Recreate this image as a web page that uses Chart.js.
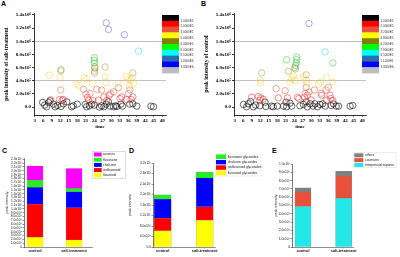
<!DOCTYPE html>
<html>
<head>
<meta charset="utf-8">
<script src="https://cdn.jsdelivr.net/npm/chart.js@4"></script>
<style>
  body { margin: 0; background: #fff; width: 400px; height: 257px; position: relative; overflow: hidden; }
  canvas { position: absolute; }
  .tag { position: absolute; font: bold 7px "Liberation Sans", sans-serif; line-height: 7px; color: #000; }
</style>
</head>
<body>
<div class="tag" style="left:1px;top:0">A</div>
<div class="tag" style="left:201px;top:0">B</div>
<div class="tag" style="left:2px;top:147px">C</div>
<div class="tag" style="left:129px;top:147px">D</div>
<div class="tag" style="left:272px;top:147px">E</div>
<canvas id="panelA" width="200" height="130" style="left:0;top:0"></canvas>
<canvas id="panelB" width="200" height="130" style="left:200px;top:0"></canvas>
<canvas id="panelC" width="135" height="127" style="left:0;top:130px"></canvas>
<canvas id="panelD" width="145" height="127" style="left:125px;top:130px"></canvas>
<canvas id="panelE" width="130" height="127" style="left:270px;top:130px"></canvas>
<script>
// ---- scatter panels A / B: [retention time, peak intensity]
const timeTicks = [3, 6, 9, 12, 15, 18, 21, 24, 27, 30, 33, 36, 39, 42, 45, 48];
const peakTicks = [0, 2e5, 4e5, 6e5, 8e5, 1e6, 1.2e6, 1.4e6];
const peakLabels = ['0.0', '2.0x10⁵', '4.0x10⁵', '6.0x10⁵', '8.0x10⁵', '1.0x10⁶', '1.2x10⁶', '1.4x10⁶'];
const guideLines = [4e5, 1e6];

const peaksSalt = [
  [5.8, 7e4], [6.5, 3e4], [7.2, 5e3], [7.9, 7e4], [8.4, 9.5e4], [9.6, 4.5e4], [10.2, 5e3], [11.0, 2.5e4],
  [12.3, 1e4], [13.1, 5e4], [14.3, 8e4], [16.0, 5e3], [16.6, 2e4], [18.0, 4.5e4], [20.8, 4e4], [21.3, 5e3],
  [22.3, 2e4], [23.1, 4.5e4], [24.0, 3e4], [25.8, 0], [26.6, 2e4], [27.4, 5e3], [28.2, 4.5e4], [29.0, 8e4],
  [29.6, 1.5e4], [30.8, 5e3], [31.5, 2e4], [32.0, 1e4], [33.4, 4.5e4], [34.0, 1.5e4], [36.5, 4.5e4],
  [37.6, 5e4], [39.0, 1.5e4], [44.0, 1.5e4], [44.9, 5e3],
  [8.6, 1.1e5], [11.7, 1.15e5], [12.7, 1.05e5], [13.1, 1.15e5], [12.2, 2.6e5], [20.2, 2.7e5], [21.1, 2.0e5],
  [21.6, 1.5e5], [22.0, 1.05e5], [22.5, 2.05e5], [23.5, 1.0e5], [24.9, 2.7e5], [25.5, 1.05e5], [26.6, 2.6e5],
  [27.4, 1.55e5], [28.4, 1.05e5], [29.3, 1.8e5], [29.8, 2.05e5], [30.8, 2.3e5], [32.5, 2.95e5], [33.1, 1.3e5],
  [33.7, 1.55e5], [35.4, 1.15e5], [36.0, 2.05e5], [36.6, 2.6e5], [37.0, 1.15e5], [37.6, 1.55e5],
  [8.2, 4.85e5], [12.0, 4.5e5], [12.2, 5.5e5], [12.3, 5.7e5], [17.6, 3.5e5], [18.5, 3.3e5], [20.4, 4.5e5],
  [21.2, 4.3e5], [23.3, 3.6e5], [24.1, 5.2e5], [24.1, 5.5e5], [24.2, 5.9e5], [24.2, 6.1e5], [27.8, 6.1e5],
  [27.8, 4.6e5], [28.1, 3.7e5], [32.4, 3.6e5], [35.2, 4.6e5], [36.0, 4.25e5], [36.9, 4.1e5], [37.6, 5.2e5],
  [37.4, 4.5e5], [37.8, 3.6e5], [36.4, 3.2e5],
  [24.0, 6.7e5], [24.0, 7.1e5], [24.1, 7.5e5], [39.6, 8.5e5],
  [28.2, 1.28e6], [29.0, 1.18e6], [34.6, 1.10e6],
];
const peaksControl = [
  [6.1, 4e4], [7.2, 5e3], [7.8, 5e4], [8.6, 8.5e4], [9.6, 5e3], [10.4, 3e4], [11.9, 2e4], [13.7, 7.5e4],
  [14.0, 1e4], [16.0, 1.5e4], [16.6, 5e3], [18.0, 1.5e4], [20.2, 1.5e4], [21.1, 7.5e4], [21.3, 5e3],
  [22.5, 6e4], [23.1, 1.5e4], [26.0, 2e4], [27.2, 4e4], [28.2, 8e4], [28.6, 5e3], [29.6, 5e4], [30.6, 1.5e4],
  [31.3, 5e4], [32.2, 5e3], [33.1, 4e4], [34.0, 5e4], [34.9, 1.5e4], [37.0, 2.5e4], [37.8, 5e4], [38.8, 1.5e4],
  [39.6, 1.5e4], [43.7, 1.5e4], [44.6, 2.5e4],
  [9.0, 1.5e5], [11.3, 1.6e5], [12.2, 1.4e5], [13.1, 1.2e5], [11.9, 1.05e5], [17.6, 2.8e5], [18.4, 1.4e5],
  [20.8, 2.5e5], [21.6, 1.4e5], [25.1, 1.5e5], [25.6, 1.3e5], [27.6, 1.5e5], [27.8, 2.1e5], [28.2, 3.0e5],
  [28.6, 1.8e5], [29.2, 2.3e5], [29.9, 1.1e5], [31.1, 2.6e5], [33.5, 2.1e5], [33.7, 1.8e5], [35.2, 2.6e5],
  [35.4, 1.05e5], [36.0, 3.0e5], [36.6, 1.8e5], [36.9, 1.3e5], [37.6, 1.0e5],
  [12.0, 4.1e5], [12.2, 3.7e5], [22.5, 3.8e5], [23.1, 4.3e5], [23.7, 4.7e5], [24.3, 4.0e5], [27.2, 4.6e5],
  [28.2, 4.1e5], [28.4, 3.6e5], [32.5, 3.5e5], [33.3, 3.8e5], [35.4, 4.5e5], [37.6, 3.8e5],
  [12.5, 5.2e5], [21.9, 5.45e5], [24.1, 6.0e5], [24.4, 5.8e5], [28.2, 4.9e5],
  [21.3, 7.2e5], [24.5, 6.3e5], [24.7, 6.7e5], [24.9, 7.2e5], [24.9, 7.6e5], [37.6, 6.7e5],
  [34.9, 8.4e5], [29.2, 1.27e6],
];

// colour scale boundaries (colour bar tick labels)
const boundsSalt = [1e5, 2e5, 3e5, 5e5, 6.4e5, 8e5, 9.5e5, 1.05e6, 1.35e6];
const boundLabelsSalt = ['1.0000E5', '2.0000E5', '3.0000E5', '5.0000E5', '6.4000E5', '8.0000E5', '9.5000E5', '1.0500E6', '1.3500E6'];
const boundsControl = [1e5, 2e5, 3.2e5, 4.8e5, 6.2e5, 7.9e5, 9.5e5, 1.11e6, 1.3e6];
const boundLabelsControl = ['1.0000E5', '2.0000E5', '3.2000E5', '4.8000E5', '6.2000E5', '7.9000E5', '9.5000E5', '1.1100E6', '1.3000E6'];

const barColors = ['#000000', '#ff0000', '#e8503a', '#ffff00', '#808000', '#00ff00', '#00ffff', '#2a6eb0', '#0000ff', '#bdbdbd'];
const ringColors = ['rgba(0,0,0,0.85)', 'rgba(220,30,30,0.7)', 'rgba(230,80,60,0.7)', 'rgba(240,200,40,0.65)',
  'rgba(140,130,20,0.6)', 'rgba(20,190,20,0.65)', 'rgba(0,200,220,0.6)', 'rgba(40,100,170,0.7)', 'rgba(70,70,200,0.65)', '#aaaaaa'];

// ---- stacked bar panels C / D / E
const groups = ['control', 'salt-treatment'];

const cFlavonoid = [2.55e6, 1.9e6];
const cIsoflavonoid = [8.7e6, 8.4e6];
const cChalcone = [4.4e6, 4.2e6];
const cFlavanone = [1.9e6, 0.9e6];
const cAurones = [3.7e6, 5.2e6];
const cTicks = [0, 1e6, 2e6, 3e6, 4e6, 5e6, 6e6, 7e6, 8e6, 9e6, 1e7, 1.1e7, 1.2e7, 1.3e7, 1.4e7, 1.5e7,
  1.6e7, 1.7e7, 1.8e7, 1.9e7, 2e7, 2.1e7, 2.2e7, 2.3e7];
const cTickLabels = ['0', '1.0x10⁶', '2.0x10⁶', '3.0x10⁶', '4.0x10⁶', '5.0x10⁶', '6.0x10⁶', '7.0x10⁶', '8.0x10⁶',
  '9.0x10⁶', '1.0x10⁷', '1.1x10⁷', '1.2x10⁷', '1.3x10⁷', '1.4x10⁷', '1.5x10⁷', '1.6x10⁷', '1.7x10⁷', '1.8x10⁷',
  '1.9x10⁷', '2.0x10⁷', '2.1x10⁷', '2.2x10⁷', '2.3x10⁷'];

const dFlavonoidGly = [6.2e6, 10.2e6];
const dIsoflavonoidGly = [4.8e6, 5.1e6];
const dChalconeGly = [7.2e6, 11.0e6];
const dFlavanoneGly = [1.65e6, 2.2e6];
const dTicks = [0, 4e6, 8e6, 1.2e7, 1.6e7, 2e7, 2.4e7, 2.8e7, 3.2e7];
const dTickLabels = ['0.0', '4.0x10⁶', '8.0x10⁶', '1.2x10⁷', '1.6x10⁷', '2.0x10⁷', '2.4x10⁷', '2.8x10⁷', '3.2x10⁷'];

const eTriterpenoid = [4.88e6, 5.88e6];
const eCoumarin = [1.72e6, 2.64e6];
const eOthers = [0.52e6, 0.6e6];
const eTicks = [0, 1e6, 2e6, 3e6, 4e6, 5e6, 6e6, 7e6, 8e6, 9e6, 1e7];
const eTickLabels = ['0', '1.0x10⁶', '2.0x10⁶', '3.0x10⁶', '4.0x10⁶', '5.0x10⁶', '6.0x10⁶', '7.0x10⁶', '8.0x10⁶', '9.0x10⁶', '1.0x10⁷'];

// ---------------------------------------------------------------
const serif = 'Liberation Serif';
const sans = 'Liberation Sans';

const fixSize = (size) => (s) => {
  if (s.isHorizontal()) s.height = size; else s.width = size;
};
const useTicks = (vals) => (s) => { s.ticks = vals.map((v) => ({ value: v })); };
const pick = (vals, labels) => (v) => labels[vals.indexOf(v)];

function shade(v, bounds) {
  const i = bounds.findIndex((b) => v < b);
  return ringColors[i < 0 ? ringColors.length - 1 : i];
}

const colorBar = {
  id: 'colorBar',
  afterDraw(chart, args, o) {
    const { ctx } = chart;
    const h = o.h / barColors.length;
    ctx.save();
    barColors.forEach((c, i) => {
      ctx.fillStyle = c;
      ctx.fillRect(o.x, o.y + i * h, o.w, h + 0.4);
    });
    ctx.font = `3px ${sans}`;
    ctx.fillStyle = '#333';
    ctx.textBaseline = 'middle';
    o.labels.forEach((t, i) => ctx.fillText(t, o.x + o.w + 1.5, o.y + (i + 1) * h));
    ctx.restore();
  },
};

const boxLegend = {
  id: 'boxLegend',
  afterDraw(chart, args, o) {
    const { ctx } = chart;
    const sets = chart.data.datasets.slice().reverse();
    ctx.save();
    ctx.strokeStyle = o.frame;
    ctx.lineWidth = 0.5;
    ctx.strokeRect(o.x, o.y, o.w, o.h);
    ctx.font = `3.3px ${sans}`;
    ctx.textBaseline = 'middle';
    sets.forEach((ds, i) => {
      const cy = o.row0 + i * o.rowH;
      ctx.fillStyle = ds.backgroundColor;
      ctx.fillRect(o.sx, cy - o.sh / 2, o.sw, o.sh);
      ctx.fillStyle = '#222';
      ctx.fillText(ds.label, o.tx, cy);
    });
    ctx.restore();
  },
};

function scatterPanel(id, peaks, bounds, boundLabels, yTitle) {
  const font = { family: serif, size: 5, weight: 'bold' };
  new Chart(document.getElementById(id), {
    type: 'scatter',
    data: {
      datasets: [{
        data: peaks.map(([x, y]) => ({ x, y })),
        borderColor: (c) => (c.raw ? shade(c.raw.y, bounds) : '#000'),
        backgroundColor: 'transparent',
        pointRadius: 3.2,
        borderWidth: 0.7,
      }],
    },
    plugins: [colorBar],
    options: {
      responsive: false,
      animation: false,
      devicePixelRatio: 1,
      layout: { padding: { left: 0, top: 13, right: 34, bottom: 0 } },
      plugins: {
        legend: { display: false },
        tooltip: { enabled: false },
        colorBar: { x: 162, y: 15, w: 17, h: 58, labels: boundLabels },
      },
      scales: {
        x: {
          type: 'linear',
          min: 2.75,
          max: 49.3,
          afterFit: fixSize(15),
          afterBuildTicks: useTicks(timeTicks),
          border: { color: '#000', width: 0.8 },
          grid: { drawOnChartArea: false, tickLength: 2, color: '#000', lineWidth: 0.6 },
          ticks: { font, color: '#000', padding: 0.5, maxRotation: 0, autoSkip: false },
          title: { display: true, text: 'time', font: { family: serif, size: 5, weight: 'bold' }, color: '#000', padding: { top: 0, bottom: 0 } },
        },
        y: {
          min: -1.2e5,
          max: 1.43e6,
          afterFit: fixSize(34),
          afterBuildTicks: useTicks(peakTicks),
          border: { color: '#000', width: 0.8 },
          grid: {
            color: (c) => (c.tick && guideLines.includes(c.tick.value) ? '#b0b0b0' : 'transparent'),
            lineWidth: 0.8,
            tickColor: '#000',
            tickLength: 2,
          },
          ticks: { font, color: '#000', padding: 1, autoSkip: false, callback: pick(peakTicks, peakLabels) },
          title: { display: true, text: yTitle, font: { family: serif, size: 5.5, weight: 'bold' }, color: '#000', padding: { top: 3.5, bottom: 0 } },
        },
      },
    },
  });
}

function barPanel(id, sets, geo) {
  const small = { family: sans, size: 3.3 };
  new Chart(document.getElementById(id), {
    type: 'bar',
    data: {
      datasets: sets.map(([label, vals, color]) => ({
        label,
        data: vals.map((y, i) => ({ x: i + 1, y })),
        backgroundColor: color,
        borderColor: 'rgba(0,0,0,0.45)',
        borderWidth: 0.4,
        barThickness: geo.bar,
      })),
    },
    plugins: [boxLegend],
    options: {
      responsive: false,
      animation: false,
      devicePixelRatio: 1,
      layout: { padding: { left: 0, top: geo.top, right: geo.right, bottom: 0 } },
      plugins: { legend: { display: false }, tooltip: { enabled: false }, boxLegend: geo.legend },
      scales: {
        x: {
          type: 'linear',
          offset: false,
          stacked: true,
          min: geo.xmin,
          max: geo.xmax,
          afterFit: fixSize(10),
          afterBuildTicks: useTicks([1, 2]),
          border: { color: '#444', width: 0.6 },
          grid: { offset: false, drawOnChartArea: false, tickLength: 1.5, color: '#444', lineWidth: 0.5 },
          ticks: { font: { family: sans, size: 3.9, weight: 'bold' }, color: '#111', padding: 0.5, maxRotation: 0, autoSkip: false, callback: (v) => groups[v - 1] },
        },
        y: {
          stacked: true,
          min: 0,
          max: geo.ymax,
          afterFit: fixSize(geo.left),
          afterBuildTicks: useTicks(geo.ticks),
          border: { color: '#222', width: 0.6 },
          grid: { drawOnChartArea: false, tickLength: 1.5, color: '#222', lineWidth: 0.5 },
          ticks: { font: small, color: '#222', padding: 0.5, autoSkip: false, callback: pick(geo.ticks, geo.labels) },
          title: { display: true, text: 'peak intensity', font: { family: sans, size: 3.6 }, color: '#222', padding: { top: geo.titlePad, bottom: 0 } },
        },
      },
    },
  });
}

scatterPanel('panelA', peaksSalt, boundsSalt, boundLabelsSalt, 'peak intensity of salt-treatment');
scatterPanel('panelB', peaksControl, boundsControl, boundLabelsControl, 'peak intensity of control');

barPanel('panelC', [
  ['flavonoid', cFlavonoid, '#ffff00'],
  ['isoflavonoid', cIsoflavonoid, '#ff0000'],
  ['chalcone', cChalcone, '#0000ff'],
  ['flavanone', cFlavanone, '#22ee22'],
  ['aurones', cAurones, '#ff00ff'],
], {
  bar: 16, top: 28, right: 43, left: 24, xmin: 0.718, xmax: 2.46, ymax: 2.336e7,
  ticks: cTicks, labels: cTickLabels, titlePad: 4.5,
  legend: { x: 92.7, y: 21.5, w: 33, h: 27, row0: 24.5, rowH: 5.2, sx: 94, sw: 7.7, sh: 4, tx: 103, frame: '#bbb' },
});

barPanel('panelD', [
  ['flavonoid glycosides', dFlavonoidGly, '#ffff00'],
  ['isoflavonoid glycosides', dIsoflavonoidGly, '#ff0000'],
  ['chalcone glycosides', dChalconeGly, '#0000ff'],
  ['flavanone glycosides', dFlavanoneGly, '#22ee22'],
], {
  bar: 17, top: 33, right: 55, left: 28, xmin: 0.769, xmax: 2.245, ymax: 3.2e7,
  ticks: dTicks, labels: dTickLabels, titlePad: 2.5,
  legend: { x: 90, y: 24, w: 46, h: 22, row0: 26.7, rowH: 5.43, sx: 91, sw: 10, sh: 4.5, tx: 102.7, frame: '#ddd' },
});

barPanel('panelE', [
  ['triterpenoid saponin', eTriterpenoid, '#22e8e8'],
  ['coumarin', eCoumarin, '#e8503a'],
  ['others', eOthers, '#808080'],
], {
  bar: 16, top: 34, right: 47, left: 22, xmin: 0.73, xmax: 2.23, ymax: 1.0e7,
  ticks: eTicks, labels: eTickLabels, titlePad: 4,
  legend: { x: 83.3, y: 22.7, w: 42.7, h: 14.6, row0: 25.3, rowH: 4.85, sx: 84.3, sw: 9, sh: 4, tx: 95, frame: '#ddd' },
});
</script>
</body>
</html>
